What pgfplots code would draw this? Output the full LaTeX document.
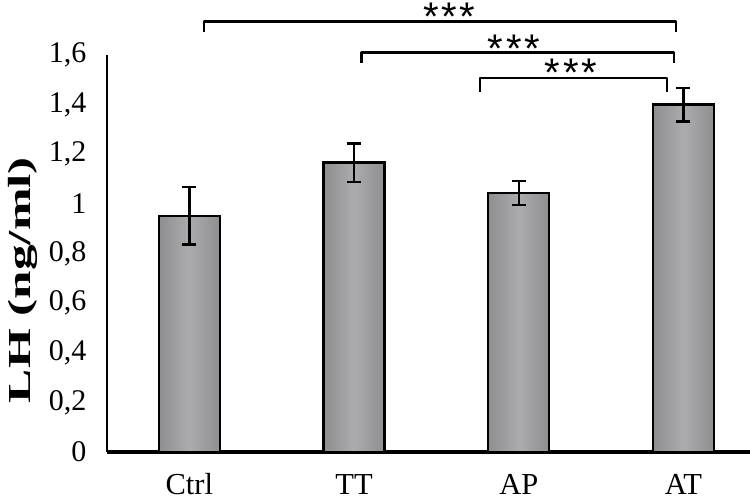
\documentclass[border=0pt]{standalone}
\usepackage{fontspec}
\setmainfont{Liberation Serif}
\newfontfamily\starfont{Liberation Sans}
\usepackage{pgfplots}
\pgfplotsset{compat=1.18}
\definecolor{barmid}{RGB}{172,172,175}
\definecolor{baredge}{RGB}{142,142,145}
\pgfplotsset{
  mybar/.style={ybar, bar width=61pt, bar shift=0pt, draw=black, line width=2.4pt,
    left color=baredge, right color=baredge, middle color=barmid,
    error bars/.cd, y dir=both, y explicit,
    error bar style={line width=2.4pt, black},
    error mark options={rotate=90, mark size=7pt, line width=2.4pt, black}},
  bracket/.style={black, line width=2.6pt, line join=round},
}
\tikzset{starnode/.style={font=\starfont\fontsize{40}{44}\selectfont, anchor=base, inner sep=0pt}}
\newcommand{\stars}{*\hspace{2.5pt}*\hspace{2.5pt}*}
\begin{document}
\begin{tikzpicture}
\begin{axis}[
  name=ax,
  scale only axis,
  width=643pt, height=397pt,
  xmin=-0.5, xmax=3.404,
  ymin=0, ymax=1.6,
  clip=false,
  axis lines*=left,
  x axis line style={line width=4.5pt, black},
  y axis line style={line width=2pt, black},
  xtick={0,1,2,3},
  xticklabels={Ctrl,TT,AP,AT},
  ytick={0,0.2,0.4,0.6,0.8,1,1.2,1.4,1.6},
  major tick length=0pt,
  /pgf/number format/use comma,
  /pgf/number format/assume math mode=true,
  xticklabel style={font=\fontsize{30.5}{34}\selectfont, anchor=base, inner sep=0pt, yshift=-42pt},
  yticklabel style={font=\fontsize{30}{36}\selectfont, anchor=east, xshift=-17pt},
]
\addplot[mybar] coordinates {(0,0.952) +- (0,0.115)};
\addplot[mybar] coordinates {(1,1.166) +- (0,0.077)};
\addplot[mybar] coordinates {(2,1.044) +- (0,0.048)};
\addplot[mybar] coordinates {(3,1.400) +- (0,0.068)};
% significance brackets
\addplot[bracket] coordinates {(0.088,1.694) (0.088,1.734) (2.954,1.734) (2.954,1.694)};
\addplot[bracket] coordinates {(1.047,1.569) (1.047,1.609) (2.942,1.609) (2.942,1.569)};
\addplot[bracket] coordinates {(1.764,1.452) (1.764,1.508) (2.900,1.508) (2.900,1.452)};
\node[starnode] at (axis cs:1.576,1.700) {\stars};
\node[starnode] at (axis cs:1.970,1.571) {\stars};
\node[starnode] at (axis cs:2.316,1.474) {\stars};
\node[rotate=90, anchor=center, font=\bfseries\fontsize{32}{38}\selectfont] at ([xshift=-84.5pt]rel axis cs:0,0.433) {\scalebox{1.6}[1]{LH (ng/ml)}};
\end{axis}
\pgfresetboundingbox
\path[use as bounding box] ([xshift=-107pt,yshift=-48pt]ax.south west) rectangle ([yshift=55pt]ax.north east);
\end{tikzpicture}
\end{document}
